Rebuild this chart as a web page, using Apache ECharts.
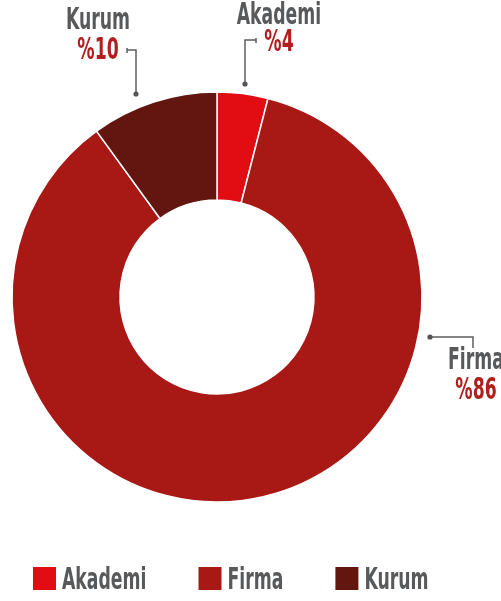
<!DOCTYPE html>
<html>
<head>
<meta charset="utf-8">
<script src="https://cdn.jsdelivr.net/npm/echarts@6/dist/echarts.min.js"></script>
<style>
  html, body { margin: 0; padding: 0; background: #fff; }
  #chart { width: 501px; height: 601px; }
</style>
</head>
<body>
<div id="chart"></div>
<script>
// Share of participants by type (percent)
const categories = ['Akademi', 'Firma', 'Kurum'];
const shares = [4, 86, 10];
const colors = ['#e10d13', '#a81916', '#63150f'];

// Callout placement for each slice: text centre x, first-line baseline, line gap,
// dot anchor, elbow corner, end point and the small end tick (dy from, dy to)
const callouts = [
  { cx: 279, base: 25, gap: 27, anchor: [245, 84], elbow: [245, 40], end: [256, 40], tick: [-2, 3] },
  { cx: 476, base: 370, gap: 30, anchor: [430, 337], elbow: [473, 337], end: [473, 337], tick: [0, 11] },
  { cx: 98, base: 30, gap: 30, anchor: [136, 94], elbow: [136, 50], end: [127, 50], tick: [-2, 3] }
];

// Tall condensed lettering: a condensed face squeezed horizontally
const FAMILY = '"DejaVu Sans Condensed", "DejaVu Sans", sans-serif';
const FSIZE = 30;
const SQUEEZE = 0.64;
const FONT = 'bold ' + FSIZE + 'px ' + FAMILY;
const GREY = '#58595b';
const RED = '#b01f1e';
const LINE = '#5e5e5e';

const measureCtx = document.createElement('canvas').getContext('2d');
function textWidth(t) {
  measureCtx.font = FONT;
  return measureCtx.measureText(t).width * SQUEEZE;
}

// Text element placed by its baseline, compressed around its anchor x
function squeezedText(t, x, baseline, fill, align) {
  return {
    type: 'text',
    x: x,
    y: baseline - 9,
    scaleX: SQUEEZE,
    z: 20,
    silent: true,
    style: { text: t, x: 0, y: 0, font: FONT, fill: fill, align: align, verticalAlign: 'middle' }
  };
}

const graphics = [];

// Callouts: dot, elbow line with end tick, name and share
callouts.forEach((c, i) => {
  graphics.push({
    type: 'polyline',
    z: 15,
    silent: true,
    shape: { points: [c.anchor, c.elbow, c.end, [c.end[0], c.end[1] + c.tick[0]], [c.end[0], c.end[1] + c.tick[1]]] },
    style: { stroke: LINE, lineWidth: 1.5, fill: null }
  });
  graphics.push({
    type: 'circle', z: 16, silent: true,
    shape: { cx: c.anchor[0], cy: c.anchor[1], r: 2.6 },
    style: { fill: '#555' }
  });
  graphics.push(squeezedText(categories[i], c.cx, c.base, GREY, 'center'));
  graphics.push(squeezedText('%' + shares[i], c.cx, c.base + c.gap, RED, 'center'));
});

// Legend row along the bottom
const LEG_X = 33, LEG_TOP = 567, SWATCH = 23, TEXT_GAP = 6, ITEM_GAP = 52;
let lx = LEG_X;
categories.forEach((name, i) => {
  graphics.push({
    type: 'rect', z: 20, silent: true,
    shape: { x: lx, y: LEG_TOP, width: SWATCH, height: SWATCH },
    style: { fill: colors[i] }
  });
  const tx = lx + SWATCH + TEXT_GAP;
  graphics.push(squeezedText(name, tx, LEG_TOP + SWATCH, GREY, 'left'));
  lx = tx + textWidth(name) + ITEM_GAP;
});

const chart = echarts.init(document.getElementById('chart'));

chart.setOption({
  animation: false,
  color: colors,
  graphic: graphics,
  series: [{
    type: 'pie',
    center: [217, 297],
    radius: [97, 205],
    startAngle: 90,
    clockwise: true,
    itemStyle: { borderColor: '#fff', borderWidth: 1.5 },
    label: { show: false },
    labelLine: { show: false },
    emphasis: { disabled: true },
    data: categories.map((name, i) => ({ name: name, value: shares[i] }))
  }]
});
</script>
</body>
</html>
